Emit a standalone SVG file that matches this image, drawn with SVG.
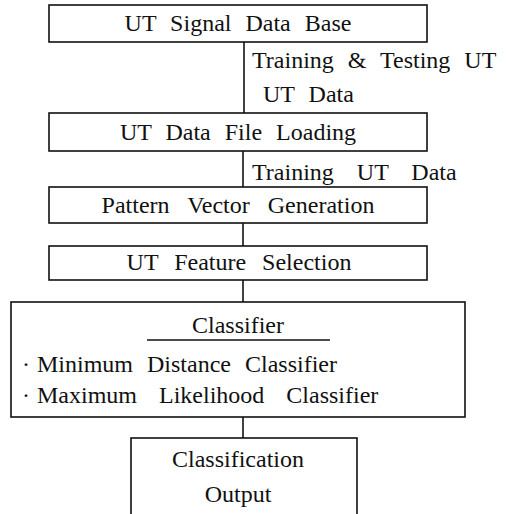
<svg xmlns="http://www.w3.org/2000/svg" width="514" height="514" viewBox="0 0 514 514">
  <style>
    .box { fill: #ffffff; stroke: #111111; stroke-width: 1.6; }
    .wire { fill: none; stroke: #111111; stroke-width: 1.6; }
    .lbl { font-size: 24px; fill: #111111; word-spacing: 8px; }
    .mid { text-anchor: middle; }
  </style>
  <rect width="514" height="514" fill="#ffffff"/>

  <g font-family="Liberation Serif, Times New Roman, serif">
  <!-- vertical flow connectors and their data labels -->
  <g id="connectors">
    <line class="wire" x1="244" y1="42" x2="244" y2="113"/>
    <line class="wire" x1="243" y1="151" x2="243" y2="187"/>
    <line class="wire" x1="243" y1="223" x2="243" y2="246"/>
    <line class="wire" x1="243" y1="280" x2="243" y2="302"/>
    <line class="wire" x1="243" y1="417" x2="243" y2="438"/>
    <text class="lbl" x="252" y="68">Training &amp; Testing UT</text>
    <text class="lbl" x="263" y="102">UT Data</text>
    <text class="lbl" x="252" y="180" style="word-spacing:17px">Training UT Data</text>
  </g>

  <g id="signal-db">
    <rect class="box" x="49" y="5" width="378" height="37"/>
    <text class="lbl mid" x="238" y="31">UT Signal Data Base</text>
  </g>

  <g id="file-loading">
    <rect class="box" x="49" y="113" width="378" height="38"/>
    <text class="lbl mid" x="238" y="140">UT Data File Loading</text>
  </g>

  <g id="pattern-vector">
    <rect class="box" x="49" y="187" width="378" height="36"/>
    <text class="lbl mid" x="238" y="213" style="word-spacing:12px">Pattern Vector Generation</text>
  </g>

  <g id="feature-selection">
    <rect class="box" x="49" y="246" width="378" height="34"/>
    <text class="lbl mid" x="239" y="270" style="word-spacing:10px">UT Feature Selection</text>
  </g>

  <g id="classifier">
    <rect class="box" x="11" y="302" width="454" height="115"/>
    <text class="lbl mid" x="238" y="333">Classifier</text>
    <line class="wire" x1="147" y1="340" x2="330" y2="340"/>
    <text class="lbl"><tspan x="22" y="372">·</tspan><tspan x="37" y="372">Minimum Distance Classifier</tspan></text>
    <text class="lbl" style="word-spacing:16px"><tspan x="22" y="403">·</tspan><tspan x="37" y="403">Maximum Likelihood Classifier</tspan></text>
  </g>

  <g id="output">
    <rect class="box" x="131" y="438" width="226" height="90"/>
    <text class="lbl mid" x="238" y="467">Classification</text>
    <text class="lbl mid" x="238" y="502">Output</text>
  </g>
  </g>
</svg>
